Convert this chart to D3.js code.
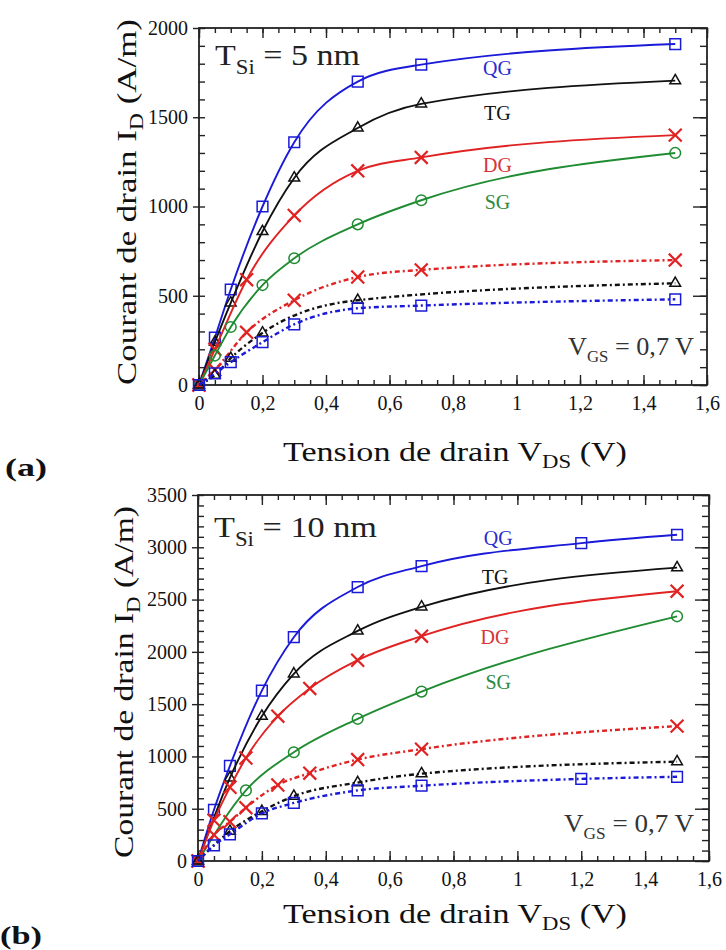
<!DOCTYPE html>
<html>
<head>
<meta charset="utf-8">
<script src="https://cdn.jsdelivr.net/npm/d3@7"></script>
<style>
  body { margin: 0; background: #fff; }
  svg { display: block; }
  text { font-family: "Liberation Serif", "Times New Roman", serif; }
</style>
</head>
<body>
<svg id="graph" width="726" height="950"></svg>
<script>
// ---- data ----
var xTicks = [0, 0.2, 0.4, 0.6, 0.8, 1, 1.2, 1.4, 1.6];
var yTicksA = [0, 500, 1000, 1500, 2000];
var yTicksB = [0, 500, 1000, 1500, 2000, 2500, 3000, 3500];

// (a) T_Si = 5 nm, solid curves
var qgA_x = [0, 0.05, 0.1, 0.2, 0.3, 0.5, 0.7, 1.5];
var qgA_y = [0, 265, 535, 1000, 1360, 1700, 1795, 1910];
var tgA_x = [0, 0.05, 0.1, 0.2, 0.3, 0.5, 0.7, 1.5];
var tgA_y = [0, 240, 460, 860, 1160, 1440, 1575, 1705];
var dgA_x = [0, 0.05, 0.15, 0.3, 0.5, 0.7, 1.5];
var dgA_y = [0, 200, 590, 950, 1200, 1275, 1400];
var sgA_x = [0, 0.05, 0.1, 0.2, 0.3, 0.5, 0.7, 1.5];
var sgA_y = [0, 165, 325, 560, 710, 900, 1035, 1300];
// (a) dashed curves
var dgA2_x = [0, 0.05, 0.15, 0.3, 0.5, 0.7, 1.5];
var dgA2_y = [0, 85, 295, 475, 605, 645, 700];
var tgA2_x = [0, 0.05, 0.1, 0.2, 0.5, 1.5];
var tgA2_y = [0, 55, 150, 292, 475, 570];
var qgA2_x = [0, 0.05, 0.1, 0.2, 0.3, 0.5, 0.7, 1.5];
var qgA2_y = [0, 65, 128, 240, 340, 430, 445, 480];

// (b) T_Si = 10 nm, solid curves
var qgB_x = [0, 0.05, 0.1, 0.2, 0.3, 0.5, 0.7, 1.2, 1.5];
var qgB_y = [0, 490, 910, 1630, 2140, 2620, 2820, 3040, 3120];
var tgB_x = [0, 0.1, 0.2, 0.3, 0.5, 0.7, 1.5];
var tgB_y = [0, 795, 1385, 1790, 2200, 2430, 2805];
var dgB_x = [0, 0.05, 0.1, 0.15, 0.25, 0.35, 0.5, 0.7, 1.5];
var dgB_y = [0, 390, 705, 985, 1385, 1650, 1920, 2150, 2580];
var sgB_x = [0, 0.15, 0.3, 0.5, 0.7, 1.5];
var sgB_y = [0, 675, 1040, 1360, 1620, 2340];
// (b) dashed curves
var dgB2_x = [0, 0.05, 0.1, 0.15, 0.25, 0.35, 0.5, 0.7, 1.5];
var dgB2_y = [0, 250, 375, 510, 727, 840, 970, 1070, 1290];
var tgB2_x = [0, 0.1, 0.2, 0.3, 0.5, 0.7, 1.5];
var tgB2_y = [0, 285, 475, 620, 750, 835, 950];
var qgB2_x = [0, 0.05, 0.1, 0.2, 0.3, 0.5, 0.7, 1.2, 1.5];
var qgB2_y = [0, 150, 255, 455, 555, 675, 720, 785, 805];

var colors = {QG: "#1a1ad8", TG: "#111111", DG: "#e02222", SG: "#1f8c32"};
var labelColors = {QG: "#2b2bcf", TG: "#111111", DG: "#d83434", SG: "#2e8a40"};
var shapes = {QG: d3.symbolSquare, TG: d3.symbolTriangle, DG: d3.symbolTimes, SG: d3.symbolCircle};
var sizes = {QG: 115, TG: 50, DG: 110, SG: 90};

function zip(xs, ys) {
  return xs.map(function(x, i){ return {x: x, y: ys[i]}; });
}

var svg = d3.select("#graph");
var fmtX = function(d){ return String(+d.toFixed(1)).replace(".", ","); };

// the original typeface is horizontally wider than Times, so stretch to the measured width
function stretch(sel, cx, cy, width, rot) {
  var w = sel.node().getComputedTextLength();
  sel.attr("transform", "translate(" + cx + "," + cy + ")" + (rot ? " rotate(" + rot + ")" : "") +
    " scale(" + (width / w) + ",1)");
}

// text with a subscript part: main, sub, rest
function subText(g, main, sub, rest, size, subSize, shift) {
  var t = g.append("text").style("font-size", size + "px");
  t.append("tspan").text(main);
  t.append("tspan").attr("dy", shift).style("font-size", subSize + "px").text(sub);
  t.append("tspan").attr("dy", -shift).text(rest);
  return t;
}

function drawPanel(p) {
  var x = d3.scaleLinear().domain([0, 1.6]).range([p.left, p.right]);
  var y = d3.scaleLinear().domain([0, p.yMax]).range([p.bottom, p.top]);
  var g = svg.append("g");

  var xMinor = d3.range(0, 1.6001, 0.05);
  var yMinor = d3.range(0, p.yMax + 1, 100);

  // bottom / top
  g.append("g").attr("transform", "translate(0," + p.bottom + ")")
    .call(d3.axisBottom(x).tickValues(xMinor).tickSize(-5).tickFormat(""));
  g.append("g").attr("transform", "translate(0," + p.bottom + ")")
    .call(d3.axisBottom(x).tickValues(xTicks).tickSize(-10).tickPadding(11).tickFormat(fmtX))
    .attr("class", "xlab");
  g.append("g").attr("transform", "translate(0," + p.top + ")")
    .call(d3.axisTop(x).tickValues(xMinor).tickSize(-5).tickFormat(""));
  g.append("g").attr("transform", "translate(0," + p.top + ")")
    .call(d3.axisTop(x).tickValues(xTicks).tickSize(-10).tickFormat(""));
  // left / right
  g.append("g").attr("transform", "translate(" + p.left + ",0)")
    .call(d3.axisLeft(y).tickValues(yMinor).tickSize(-6).tickFormat(""));
  g.append("g").attr("transform", "translate(" + p.left + ",0)")
    .call(d3.axisLeft(y).tickValues(p.yTicks).tickSize(6).tickPadding(5).tickFormat(d3.format("d")))
    .attr("class", "ylab");
  g.append("g").attr("transform", "translate(" + p.right + ",0)")
    .call(d3.axisRight(y).tickValues(yMinor).tickSize(-7).tickFormat(""));
  g.append("g").attr("transform", "translate(" + p.right + ",0)")
    .call(d3.axisRight(y).tickValues(p.yTicks).tickSize(-14).tickFormat(""));

  g.selectAll(".domain").remove();
  g.selectAll(".tick line").attr("stroke", "#222").attr("stroke-width", 1.4);
  g.selectAll(".xlab text, .ylab text")
    .style("font-size", "20px").attr("fill", "#111");

  g.append("rect")
    .attr("x", p.left).attr("y", p.top)
    .attr("width", p.right - p.left).attr("height", p.bottom - p.top)
    .attr("fill", "none").attr("stroke", "#222").attr("stroke-width", 1.8);

  var line = d3.line()
    .x(function(d){ return x(d.x); })
    .y(function(d){ return y(d.y); })
    .curve(d3.curveMonotoneX);

  p.series.forEach(function(s) {
    g.append("path")
      .datum(s.data)
      .attr("d", line)
      .attr("fill", "none")
      .attr("stroke", colors[s.name])
      .attr("stroke-width", s.dashed ? 2.4 : 1.9)
      .attr("stroke-dasharray", s.dashed ? "5,3,2,3" : null);

    g.selectAll(null)
      .data(s.data)
      .enter()
      .append("path")
      .attr("transform", function(d){ return "translate(" + x(d.x) + "," + y(d.y) + ")"; })
      .attr("d", d3.symbol().type(shapes[s.name]).size(sizes[s.name]))
      .attr("fill", "none")
      .attr("stroke", colors[s.name])
      .attr("stroke-width", s.name == "DG" ? 2.2 : 1.5);
  });

  // curve labels
  p.labels.forEach(function(l) {
    g.append("text")
      .attr("x", x(l.x)).attr("y", y(l.y))
      .attr("text-anchor", "middle")
      .attr("dominant-baseline", "central")
      .attr("fill", labelColors[l.name])
      .style("font-size", "20px")
      .text(l.name);
  });

  // T_Si label
  var t = subText(g, "T", "Si", " = " + p.tsi, 30, 20, 9).attr("fill", "#222");
  stretch(t, p.left + 16, p.top + p.tsiDy, p.tsiW);

  // V_GS label
  var v = subText(g, "V", "GS", " = 0,7 V", 25, 16, 7)
    .attr("text-anchor", "end").attr("fill", "#333");
  stretch(v, p.vgsRight, p.bottom - p.vgsDy, p.vgsW);

  // axis titles
  var xt = subText(g, "Tension de drain V", "DS", " (V)", 27, 18, 7)
    .attr("text-anchor", "middle").attr("fill", "#111");
  stretch(xt, 455, p.bottom + p.xTitleDy, 344);

  var yt = subText(g, "Courant de drain I", "D", " (A/m)", 28, 19, 7)
    .attr("text-anchor", "middle").attr("fill", "#111");
  stretch(yt, p.yTitleX, p.yTitleY, p.yTitleW, -90);

  var tag = svg.append("text")
    .attr("fill", "#111")
    .style("font-size", "26px").style("font-weight", "bold")
    .text(p.tag);
  stretch(tag, p.tagX, p.tagY, 42);
}

drawPanel({
  left: 199, right: 707, top: 28, bottom: 385, yMax: 2000, yTicks: yTicksA,
  tsi: "5 nm", tsiDy: 37, tsiW: 145,
  vgsRight: 694, vgsDy: 30, vgsW: 126,
  xTitleDy: 76, yTitleX: 136, yTitleY: 202, yTitleW: 366,
  tag: "(a)", tagX: 5, tagY: 476,
  series: [
    {name: "QG", data: zip(qgA_x, qgA_y)},
    {name: "TG", data: zip(tgA_x, tgA_y)},
    {name: "DG", data: zip(dgA_x, dgA_y)},
    {name: "SG", data: zip(sgA_x, sgA_y)},
    {name: "DG", dashed: true, data: zip(dgA2_x, dgA2_y)},
    {name: "TG", dashed: true, data: zip(tgA2_x, tgA2_y)},
    {name: "QG", dashed: true, data: zip(qgA2_x, qgA2_y)}
  ],
  labels: [
    {name: "QG", x: 0.94, y: 1776},
    {name: "TG", x: 0.94, y: 1524},
    {name: "DG", x: 0.94, y: 1232},
    {name: "SG", x: 0.94, y: 1025}
  ]
});

drawPanel({
  left: 198, right: 709, top: 495, bottom: 861, yMax: 3500, yTicks: yTicksB,
  tsi: "10 nm", tsiDy: 42, tsiW: 163,
  vgsRight: 694, vgsDy: 29, vgsW: 130,
  xTitleDy: 62, yTitleX: 133, yTitleY: 682, yTitleW: 352,
  tag: "(b)", tagX: 0, tagY: 944,
  series: [
    {name: "QG", data: zip(qgB_x, qgB_y)},
    {name: "TG", data: zip(tgB_x, tgB_y)},
    {name: "DG", data: zip(dgB_x, dgB_y)},
    {name: "SG", data: zip(sgB_x, sgB_y)},
    {name: "DG", dashed: true, data: zip(dgB2_x, dgB2_y)},
    {name: "TG", dashed: true, data: zip(tgB2_x, tgB2_y)},
    {name: "QG", dashed: true, data: zip(qgB2_x, qgB2_y)}
  ],
  labels: [
    {name: "QG", x: 0.94, y: 3089},
    {name: "TG", x: 0.93, y: 2716},
    {name: "DG", x: 0.93, y: 2142},
    {name: "SG", x: 0.94, y: 1712}
  ]
});
</script>
</body>
</html>
